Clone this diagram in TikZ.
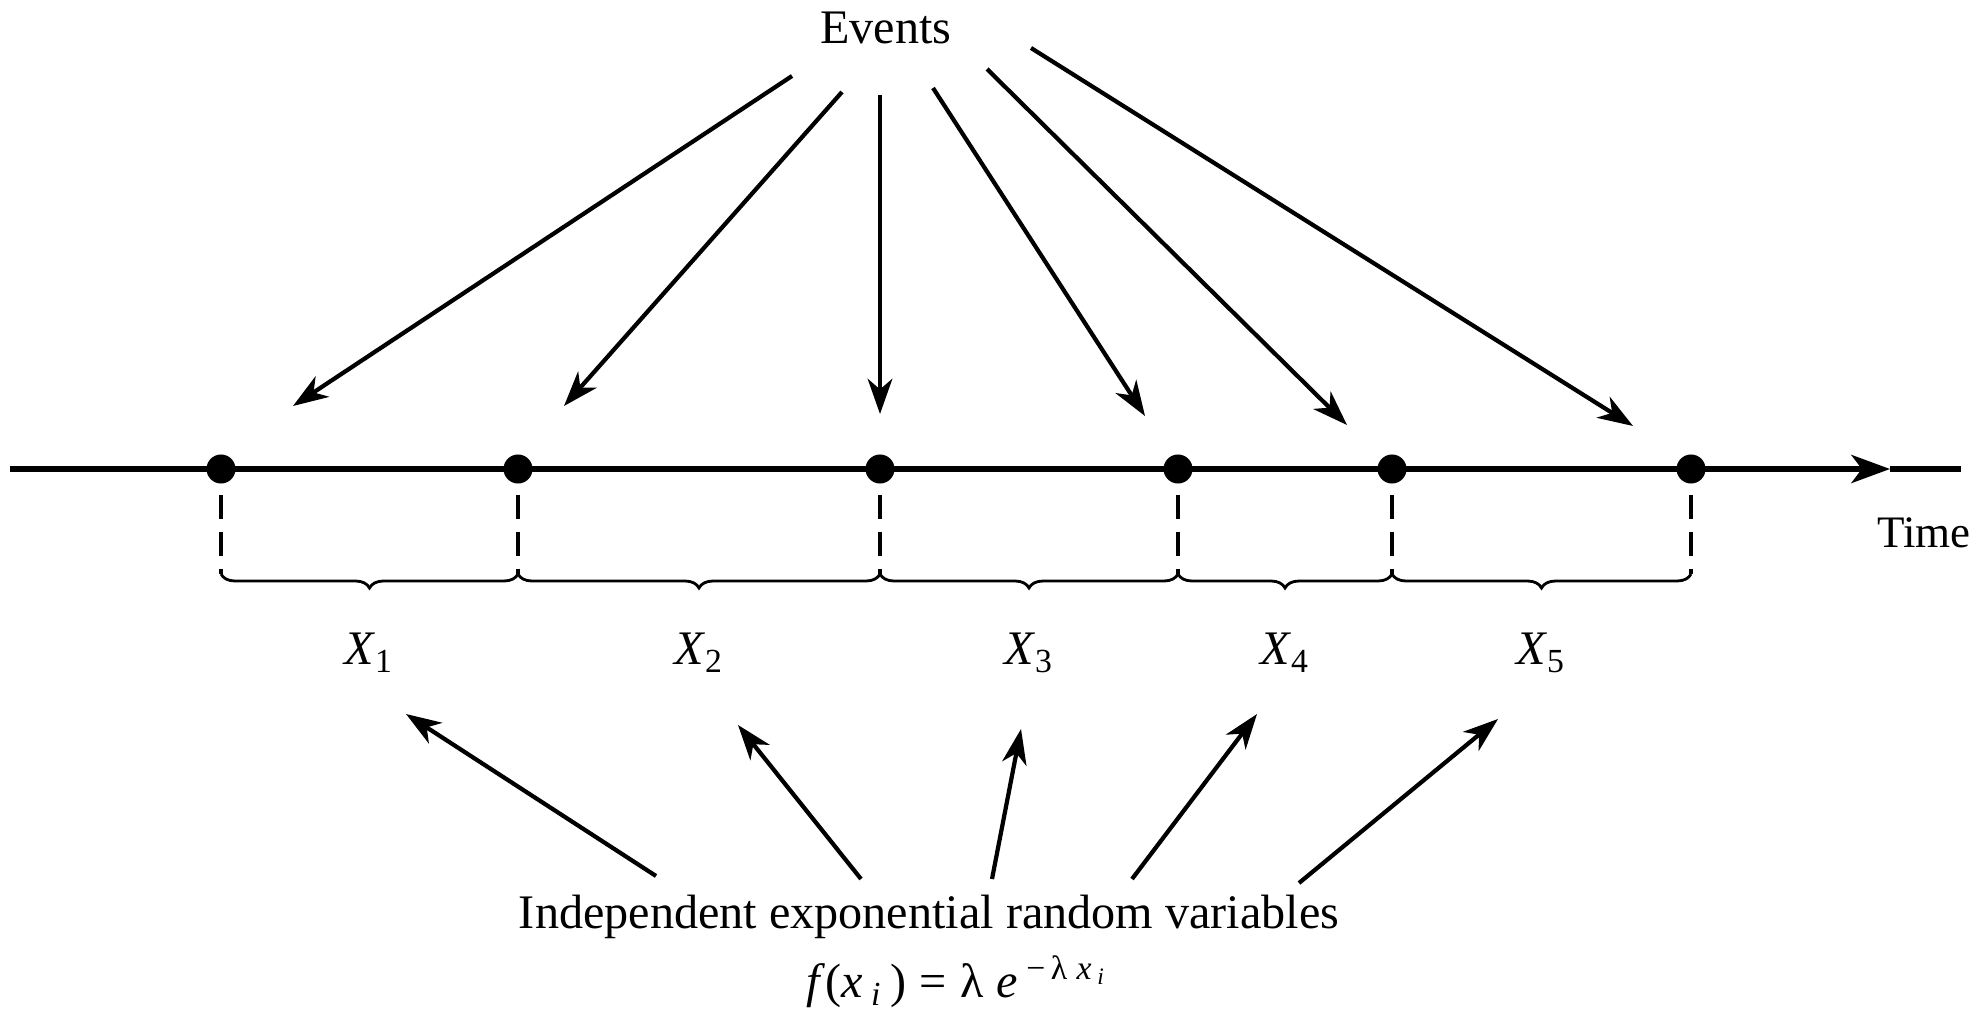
\documentclass[tikz,border=0pt]{standalone}
\usepackage{fontspec}
\setmainfont{Liberation Serif}
\usepackage{tikz}
\usetikzlibrary{arrows.meta,calc,decorations.pathreplacing}

\tikzset{
  lbl/.style={font=\fontsize{13.7}{16}\selectfont, inner sep=1pt},
  evdot/.style={circle, fill=black, inner sep=0pt, minimum size=0.29cm},
  axisline/.style={line width=1.5pt},
  evarrow/.style={line width=1.2pt, -{Stealth[length=10pt,width=7pt,inset=3pt]}},
  gapline/.style={line width=0.9pt, dash pattern=on 7pt off 3.5pt, shorten <=3pt},
  spanbrace/.style={line width=0.8pt, decorate,
    decoration={brace, mirror, amplitude=0.14cm}}
}

\begin{document}
\begin{tikzpicture}[x=0.01cm, y=-0.01cm]
\useasboundingbox (0,0) rectangle (1977,1010);
% ----- time axis with the events -----
\coordinate (ax0) at (10,469);
\coordinate (axm) at (1890,469);
\coordinate (ax1) at (1961,469);
\draw[axisline, -{Stealth[length=11pt,width=8pt,inset=3pt]}] (ax0) -- (axm);
\draw[axisline] (axm) -- (ax1);
\node[lbl, font=\fontsize{12.8}{15}\selectfont, anchor=east] (tm) at (1975,533) {Time};
\foreach \i/\x in {1/221, 2/518, 3/880, 4/1178, 5/1392, 6/1691} {
  \node[evdot] (p\i) at (\x,469) {};
  \coordinate (b\i) at (\x,574);
  \draw[gapline] (p\i) -- (b\i);
}
% ----- interarrival times -----
\foreach \i/\j in {1/2, 2/3, 3/4, 4/5, 5/6}
  \draw[spanbrace] (b\i) -- (b\j);
\node[lbl] (x1) at (369,653) {\textit{X}\textsubscript{1}};
\node[lbl] (x2) at (699,653) {\textit{X}\textsubscript{2}};
\node[lbl] (x3) at (1029,653) {\textit{X}\textsubscript{3}};
\node[lbl] (x4) at (1285,653) {\textit{X}\textsubscript{4}};
\node[lbl] (x5) at (1541,653) {\textit{X}\textsubscript{5}};
% ----- events label, arrows down to the axis -----
\node[lbl] (ev) at (886,28) {Events};
\foreach \i/\sx/\sy/\tx/\ty in {1/-94/48/72/-63, 2/-44/64/46/-63,
    3/-6/67/0/-55, 4/47/60/-33/-53, 5/101/41/-45/-44, 6/145/20/-58/-43} {
  \coordinate (s\i) at ($(ev)+(\sx,\sy)$);
  \coordinate (t\i) at ($(p\i)+(\tx,\ty)$);
  \draw[evarrow] (s\i) -- (t\i);
}
% ----- distribution label, arrows up to the X's -----
\node[lbl] (indep) at (929,917) {Independent exponential random variables};
\node[lbl] (pdf) at (957,982)
  {\textit{f}(\textit{x}\,\textsubscript{\textit{i}}\,)\;=\;λ\;\textit{e}\,\textsuperscript{−\,λ\;\textit{x}\,\textsubscript{\textit{i}}}};
\foreach \i/\sx/\sy/\tx/\ty in {1/-273/-41/37/61, 2/-68/-38/39/72,
    3/63/-38/-8/76, 4/203/-38/-28/61, 5/370/-34/-43/66} {
  \coordinate (u\i) at ($(indep)+(\sx,\sy)$);
  \coordinate (v\i) at ($(x\i)+(\tx,\ty)$);
  \draw[evarrow] (u\i) -- (v\i);
}
\end{tikzpicture}
\end{document}
